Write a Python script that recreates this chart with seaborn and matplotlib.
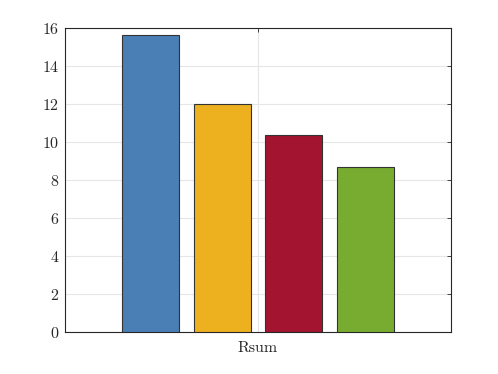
import matplotlib
matplotlib.use('Agg')
import matplotlib.pyplot as plt
import seaborn as sns
import pandas as pd

# values
group = ['Rsum']
series = ['A', 'B', 'C', 'D']
values = [15.62, 12.0, 10.36, 8.70]
colors = ['#4a7fb5', '#edb120', '#a2142f', '#77ac30']

df = pd.DataFrame({'group': group * len(series), 'series': series, 'value': values})

sns.set_style('white')
plt.rcParams['font.family'] = 'cmr10'
plt.rcParams['axes.formatter.use_mathtext'] = True
plt.rcParams['axes.unicode_minus'] = False

fig = plt.figure(figsize=(4.98, 3.74), dpi=100)
ax = fig.add_axes([65 / 498, 1 - 332 / 374, (451 - 65) / 498, (332 - 28) / 374])

sns.barplot(data=df, x='group', y='value', hue='series', palette=colors,
            saturation=1, width=0.74, gap=0.2, edgecolor='#333333', linewidth=0.8,
            legend=False, ax=ax, zorder=3)

ax.set_xlim(-0.5, 0.5)
ax.set_ylim(0, 16)
ax.set_yticks(range(0, 17, 2))
ax.set_xlabel('')
ax.set_ylabel('')

ax.grid(True, color='#e6e6e6', linewidth=0.8, zorder=0)
ax.set_axisbelow(True)
for s in ax.spines.values():
    s.set_visible(True)
    s.set_color('#262626')
    s.set_linewidth(0.8)
ax.tick_params(direction='in', length=3, width=0.6, color='#262626',
               top=True, right=True, labelsize=11.5, pad=4,
               labelcolor='#262626')
ax.tick_params(axis='x', pad=7)

fig.savefig('out.png', dpi=100)
